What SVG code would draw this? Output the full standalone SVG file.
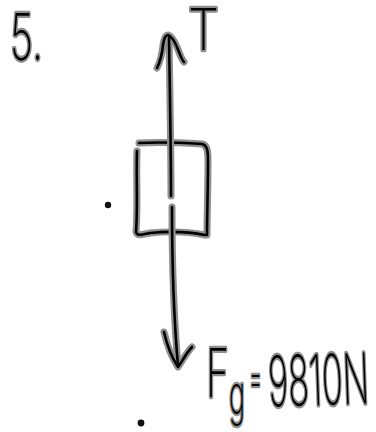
<svg xmlns="http://www.w3.org/2000/svg" xmlns:xlink="http://www.w3.org/1999/xlink" width="376" height="432" viewBox="0 0 376 432">
<style>
.halo{fill:none;stroke:#8f8f8f;stroke-width:7;stroke-linecap:round;stroke-linejoin:round}
.core{fill:none;stroke:#000;stroke-width:2.6;stroke-linecap:round;stroke-linejoin:round}
.lbl{font-family:"Inter","Lato","Liberation Sans",sans-serif;font-weight:200;fill:#000;stroke:#8f8f8f;stroke-width:4.5;stroke-linejoin:round;paint-order:stroke}
.dot{fill:#111}
</style>
<defs>
<path id="pUpShaft" d="M171,196 C171,150 170,100 169,38"/>
<path id="pUpHead" d="M157,68 C160,62 162,55 163,45 C164,38 166,35 168,35 C172,36 176,44 179,52 C181,57 182,60 184,62"/>
<path id="pDnShaft" d="M172,207 C172,260 174,320 178,366"/>
<path id="pDnHead" d="M164,332 C167,345 172,358 178,367 C183,360 187,352 192,347"/>
<path id="pBoxA" d="M137,151 C136,175 138,205 136,232 C137,236 140,235 150,233 C170,231 190,232 205,235"/>
<path id="pBoxB" d="M139,143 C160,142 185,143 202,144 C207,145 208,150 208,160 C208,190 207,215 207,235"/>
</defs>
<g id="block">
<use xlink:href="#pBoxA" class="halo"/><use xlink:href="#pBoxB" class="halo"/>
<use xlink:href="#pBoxA" class="core"/><use xlink:href="#pBoxB" class="core"/>
</g>
<g id="connectors">
<use xlink:href="#pUpShaft" class="halo"/><use xlink:href="#pUpHead" class="halo"/>
<use xlink:href="#pDnShaft" class="halo"/><use xlink:href="#pDnHead" class="halo"/>
<use xlink:href="#pUpShaft" class="core"/><use xlink:href="#pUpHead" class="core"/>
<use xlink:href="#pDnShaft" class="core"/><use xlink:href="#pDnHead" class="core"/>
</g>
<g id="label-number"><text class="lbl" x="10" y="60" font-size="64" textLength="33" lengthAdjust="spacingAndGlyphs">5.</text></g>
<g id="label-T"><text class="lbl" x="188" y="50" font-size="58" textLength="31" lengthAdjust="spacingAndGlyphs">T</text></g>
<g id="label-Fg">
<text class="lbl" x="206" y="397" font-size="67" textLength="23" lengthAdjust="spacingAndGlyphs">F</text>
<text class="lbl" x="229" y="414" font-size="54" textLength="16" lengthAdjust="spacingAndGlyphs">g</text>
<text class="lbl" x="249" y="394" font-size="46" textLength="13" lengthAdjust="spacingAndGlyphs">=</text>
<text class="lbl" x="268" y="405" font-size="70" textLength="101" lengthAdjust="spacingAndGlyphs" transform="rotate(-2 320 380)">9810N</text>
</g>
<g id="dots">
<circle class="dot" cx="108" cy="205" r="3.2"/>
<circle class="dot" cx="141" cy="423" r="3.4"/>
</g>
</svg>
